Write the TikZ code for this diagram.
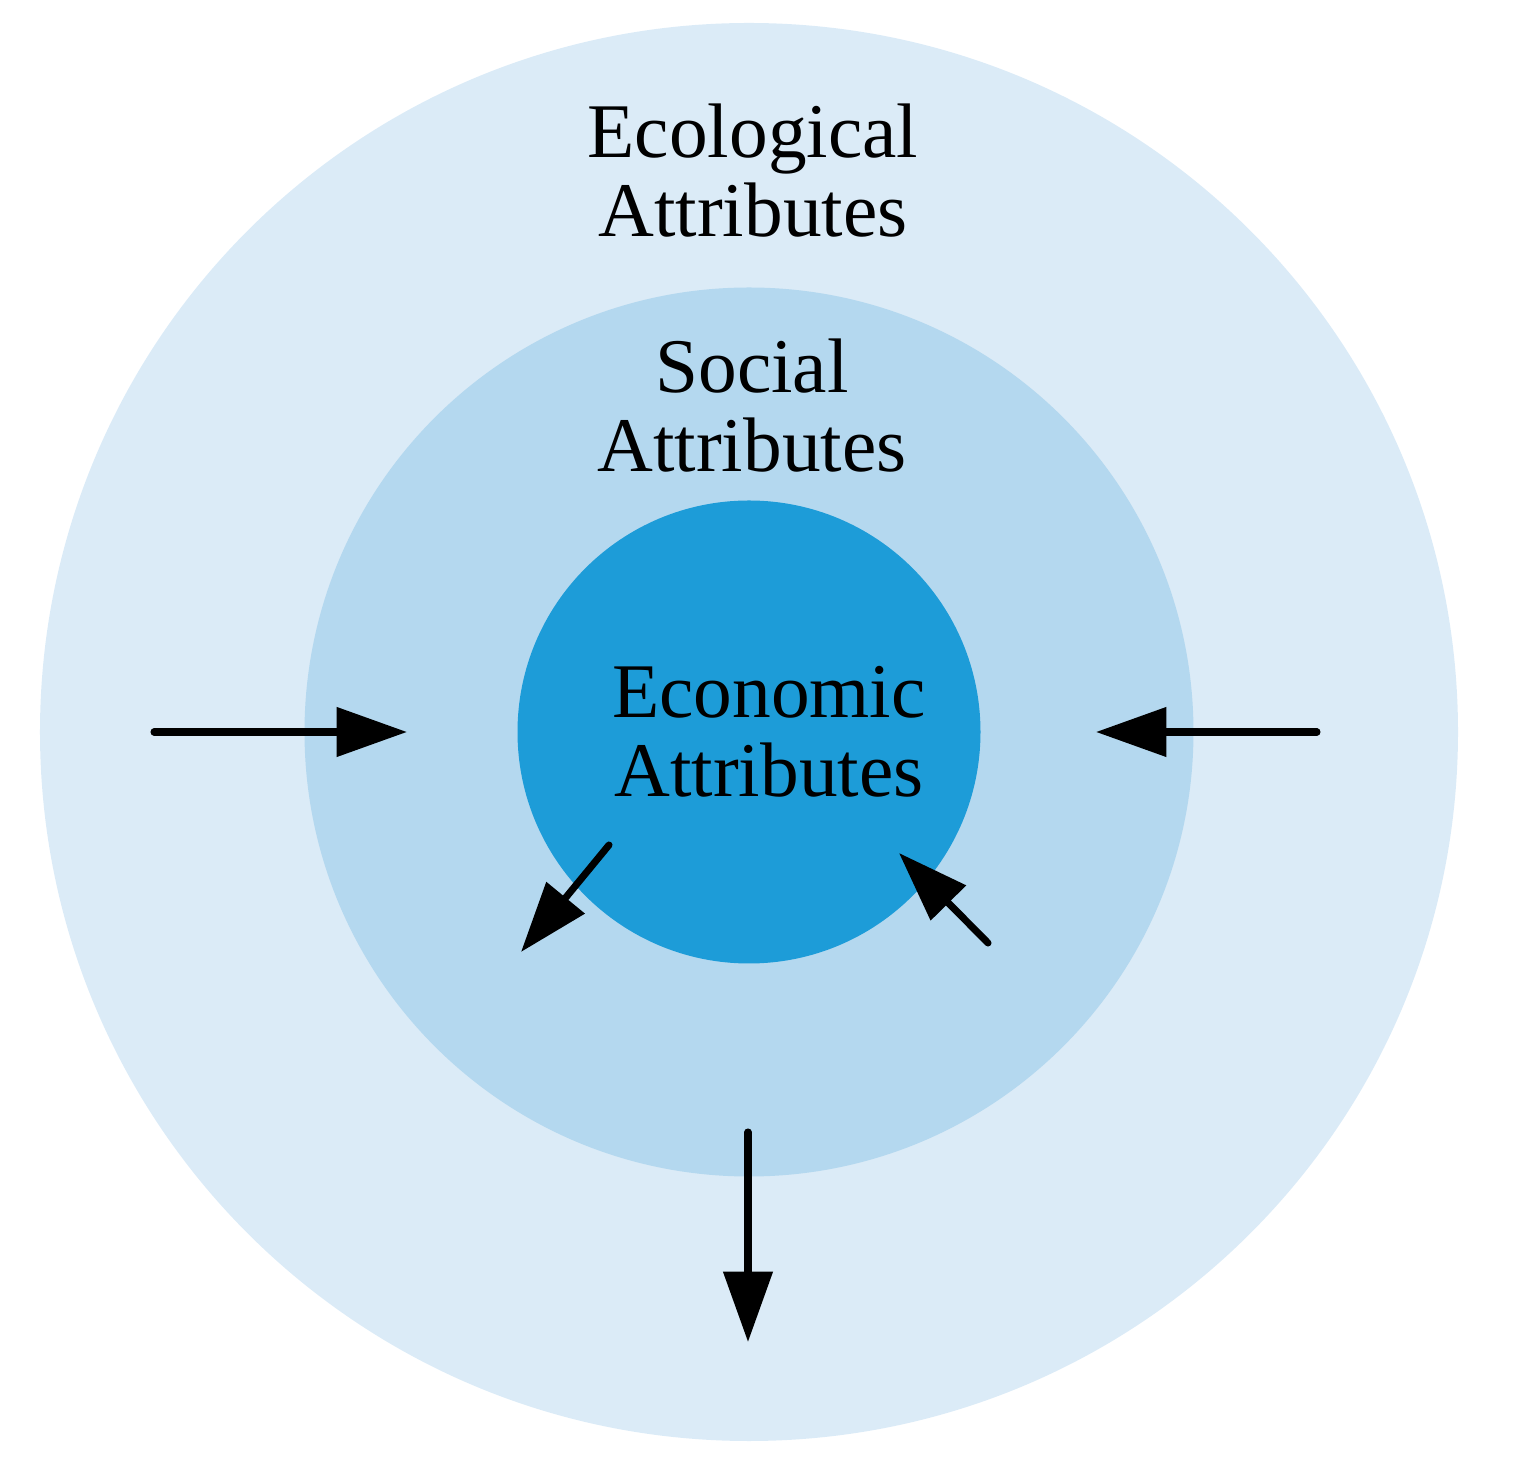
\documentclass[tikz,border=0pt]{standalone}
\usepackage{fontspec}
\setmainfont{Liberation Serif}
\usetikzlibrary{arrows.meta}

\definecolor{ecoblue}{HTML}{DBEBF7}
\definecolor{socblue}{HTML}{B4D8EF}
\definecolor{econblue}{HTML}{1D9CD8}

\tikzset{
    ring/.style={circle, inner sep=0pt, draw=none},
    label/.style={align=center, font=\fontsize{22}{22.5}\selectfont},
    pfeil/.style={line width=2pt, line cap=round, -{Triangle[length=20pt, width=13.7pt]}}
}

\begin{document}
\begin{tikzpicture}
        \useasboundingbox (-7.49, -7.35) rectangle (7.70, 7.32);
        \node[ring, fill=ecoblue, minimum size=14.18cm] (ecological) at (0, 0) {};
        \node[ring, fill=socblue, minimum size=8.89cm] (social) at (0, 0) {};
        \node[ring, fill=econblue, minimum size=4.63cm] (economic) at (0, 0) {};
        \node[label] (ecotext) at (0.04, 5.61) {Ecological\\Attributes};
        \node[label] (soctext) at (0.03, 3.26) {Social\\Attributes};
        \node[label] (econtext) at (0.20, 0.0) {Economic\\Attributes};
        \coordinate (w1) at (-5.95, 0);
        \coordinate (w2) at (-3.42, 0);
        \coordinate (e1) at (5.68, 0);
        \coordinate (e2) at (3.47, 0);
        \coordinate (s1) at (-0.01, -4.00);
        \coordinate (s2) at (-0.01, -6.10);
        \coordinate (sw1) at (-1.40, -1.13);
        \coordinate (sw2) at (-2.28, -2.20);
        \coordinate (se1) at (2.39, -2.11);
        \coordinate (se2) at (1.50, -1.21);
        \draw[pfeil] (w1) -- (w2);
        \draw[pfeil] (e1) -- (e2);
        \draw[pfeil] (s1) -- (s2);
        \draw[pfeil] (sw1) -- (sw2);
        \draw[pfeil] (se1) -- (se2);
    \end{tikzpicture}
\end{document}
